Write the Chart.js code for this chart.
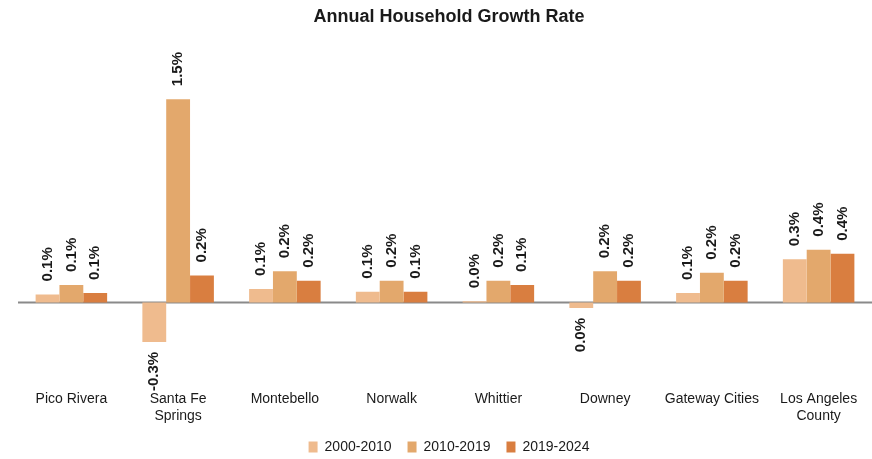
<!DOCTYPE html>
<html>
<head>
<meta charset="utf-8">
<script src="https://cdn.jsdelivr.net/npm/chart.js@4"></script>
<style>
  html, body { margin: 0; padding: 0; background: #fff; }
  #wrap { width: 872px; height: 459px; }
</style>
</head>
<body>
<div id="wrap"><canvas id="growthChart"></canvas></div>
<script>
const places = [['Pico Rivera'], ['Santa Fe', 'Springs'], ['Montebello'], ['Norwalk'], ['Whittier'], ['Downey'], ['Gateway Cities'], ['Los Angeles', 'County']];
const periods = ['2000-2010', '2010-2019', '2019-2024'];
const rate2000 = [0.06, -0.29, 0.10, 0.08, 0.01, -0.04, 0.07, 0.32];
const rate2010 = [0.13, 1.50, 0.23, 0.16, 0.16, 0.23, 0.22, 0.39];
const rate2019 = [0.07, 0.20, 0.16, 0.08, 0.13, 0.16, 0.16, 0.36];
const colors = ['#efbb8e', '#e3a86c', '#d97e40'];

const FONT = "'Liberation Sans Narrow', 'Arial Narrow', 'Liberation Sans', Arial, sans-serif";

function fmt(v) {
    let s = v.toFixed(1);
    if (s === '-0.0') s = '0.0';
    return s + '%';
}

// gray zero line under the bars
const zeroLine = {
    id: 'zeroLine',
    beforeDatasetsDraw(chart) {
        const { ctx, chartArea, scales } = chart;
        const y = scales.y.getPixelForValue(0);
        ctx.save();
        ctx.strokeStyle = '#8a8a8a';
        ctx.lineWidth = 2;
        ctx.beginPath();
        ctx.moveTo(chartArea.left, y);
        ctx.lineTo(chartArea.right, y);
        ctx.stroke();
        ctx.restore();
    }
};

// rotated value labels above (or below) each bar
const barLabels = {
    id: 'barLabels',
    afterDatasetsDraw(chart) {
        const ctx = chart.ctx;
        ctx.save();
        ctx.font = 'bold 15px ' + FONT;
        ctx.fillStyle = '#1a1a1a';
        ctx.textBaseline = 'middle';
        chart.data.datasets.forEach((ds, i) => {
            chart.getDatasetMeta(i).data.forEach((bar, j) => {
                const v = ds.data[j];
                const neg = v < 0;
                ctx.save();
                ctx.translate(bar.x, neg ? bar.y + 10 : bar.y - 13);
                ctx.rotate(-Math.PI / 2);
                ctx.textAlign = neg ? 'right' : 'left';
                ctx.fillText(fmt(v), 0, 0);
                ctx.restore();
            });
        });
        ctx.restore();
    }
};

new Chart(document.getElementById('growthChart'), {
    type: 'bar',
    data: {
        labels: places,
        datasets: [
            { label: periods[0], data: rate2000, backgroundColor: colors[0] },
            { label: periods[1], data: rate2010, backgroundColor: colors[1] },
            { label: periods[2], data: rate2019, backgroundColor: colors[2] }
        ]
    },
    options: {
        responsive: true,
        maintainAspectRatio: false,
        animation: false,
        layout: { padding: { left: 18, right: -8, top: 0, bottom: -5 } },
        datasets: { bar: { categoryPercentage: 0.67, barPercentage: 1.0 } },
        scales: {
            x: {
                grid: { display: false },
                border: { display: false },
                ticks: { color: '#1a1a1a', font: { family: FONT, size: 14, lineHeight: 1.2 }, padding: 14, maxRotation: 0, autoSkip: false },
                afterFit: (scale) => { scale.height = 55; }
            },
            y: {
                display: false,
                min: -0.49,
                max: 1.6
            }
        },
        plugins: {
            title: {
                display: true,
                text: 'Annual Household Growth Rate',
                color: '#1a1a1a',
                font: { family: FONT, size: 18, weight: 'bold' },
                padding: { top: 6, bottom: 58 }
            },
            legend: {
                position: 'bottom',
                labels: { color: '#1a1a1a', font: { family: FONT, size: 14 }, boxWidth: 9, boxHeight: 11, padding: 16 }
            },
            tooltip: { enabled: false }
        }
    },
    plugins: [zeroLine, barLabels]
});
</script>
</body>
</html>
